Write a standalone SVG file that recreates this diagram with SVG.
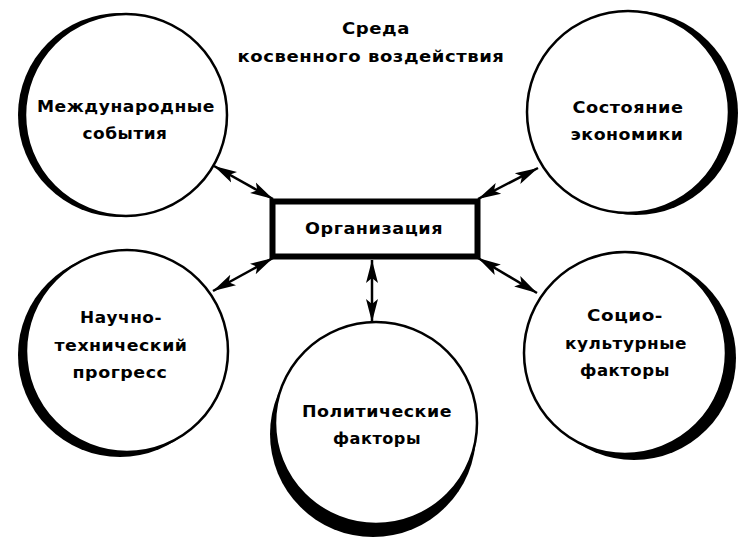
<svg xmlns="http://www.w3.org/2000/svg" width="750" height="545" viewBox="0 0 750 545">
<style>
.shadow{fill:#000}
.disc{fill:#fff;stroke:#000;stroke-width:2.5}
.lbl{font-family:"DejaVu Sans","Liberation Sans",Arial,sans-serif;font-weight:bold;font-size:16px;fill:#000;text-anchor:middle;letter-spacing:0.5px}
.conn{stroke:#000;stroke-width:2.5;fill:none;marker-start:url(#ah);marker-end:url(#ah)}
</style>
<defs>
<marker id="ah" markerUnits="userSpaceOnUse" viewBox="0 0 24 14" markerWidth="24" markerHeight="14" refX="23" refY="7" orient="auto-start-reverse">
<path d="M0,1 L23,7 L0,13 L5,7 z" fill="#000"/>
</marker>
</defs>
<rect width="750" height="545" fill="#fff"/>

<g id="title">
<text class="lbl" x="376" y="34" textLength="68" lengthAdjust="spacingAndGlyphs">Среда</text>
<text class="lbl" x="371" y="62" textLength="267" lengthAdjust="spacingAndGlyphs">косвенного воздействия</text>
</g>

<g id="connectors">
<line class="conn" x1="273" y1="199" x2="214" y2="166"/>
<line class="conn" x1="273" y1="258" x2="213" y2="291"/>
<line class="conn" x1="372" y1="260" x2="372" y2="322"/>
<line class="conn" x1="478" y1="199" x2="538" y2="168"/>
<line class="conn" x1="478" y1="258" x2="537" y2="293"/>
</g>

<g id="node-international">
<circle class="shadow" cx="120" cy="115" r="102"/>
<circle class="disc" cx="126" cy="115" r="101"/>
<text class="lbl" x="126" y="112" textLength="178" lengthAdjust="spacingAndGlyphs">Международные</text>
<text class="lbl" x="125" y="139" textLength="85" lengthAdjust="spacingAndGlyphs">события</text>
</g>

<g id="node-economy">
<circle class="shadow" cx="636" cy="113" r="102"/>
<circle class="disc" cx="628" cy="112" r="101"/>
<text class="lbl" x="628" y="113" textLength="111" lengthAdjust="spacingAndGlyphs">Состояние</text>
<text class="lbl" x="627" y="140" textLength="113" lengthAdjust="spacingAndGlyphs">экономики</text>
</g>

<g id="node-science">
<circle class="shadow" cx="120" cy="355" r="102"/>
<circle class="disc" cx="127" cy="351" r="101"/>
<text class="lbl" x="121" y="323" textLength="82" lengthAdjust="spacingAndGlyphs">Научно-</text>
<text class="lbl" x="121" y="351" textLength="133" lengthAdjust="spacingAndGlyphs">технический</text>
<text class="lbl" x="120" y="378" textLength="95" lengthAdjust="spacingAndGlyphs">прогресс</text>
</g>

<g id="node-political">
<circle class="shadow" cx="373" cy="434" r="103"/>
<circle class="disc" cx="376" cy="423" r="101"/>
<text class="lbl" x="377" y="417" textLength="150" lengthAdjust="spacingAndGlyphs">Политические</text>
<text class="lbl" x="377" y="444" textLength="88" lengthAdjust="spacingAndGlyphs">факторы</text>
</g>

<g id="node-sociocultural">
<circle class="shadow" cx="634" cy="358" r="102"/>
<circle class="disc" cx="625" cy="353" r="101"/>
<text class="lbl" x="625" y="321" textLength="76" lengthAdjust="spacingAndGlyphs">Социо-</text>
<text class="lbl" x="626" y="349" textLength="122" lengthAdjust="spacingAndGlyphs">культурные</text>
<text class="lbl" x="625" y="376" textLength="90" lengthAdjust="spacingAndGlyphs">факторы</text>
</g>

<g id="node-organization">
<rect x="272.5" y="201.5" width="205" height="55" fill="#fff" stroke="#000" stroke-width="6"/>
<text class="lbl" x="374" y="234" textLength="138" lengthAdjust="spacingAndGlyphs">Организация</text>
</g>
</svg>
